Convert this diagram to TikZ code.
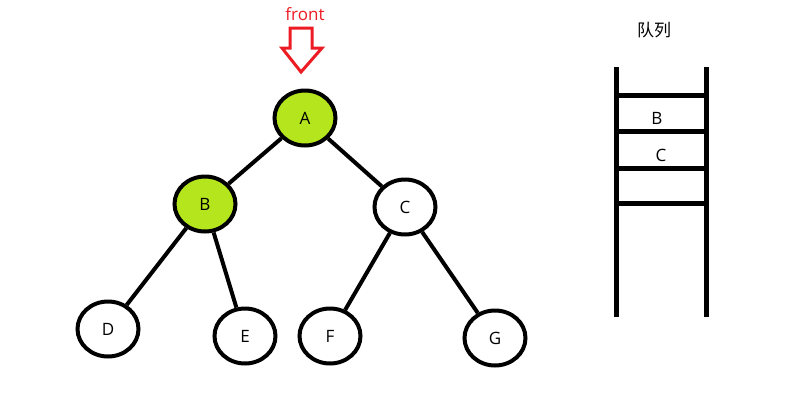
\documentclass[tikz,border=0pt]{standalone}
\usepackage{fontspec}
\setmainfont{Open Sans}
\newfontfamily\cjk{Noto Sans CJK SC}
\usetikzlibrary{shapes.geometric}
\definecolor{lime}{RGB}{181,230,29}
\definecolor{pred}{RGB}{237,28,36}
\begin{document}
\begin{tikzpicture}[x=1pt,y=-1pt,
  tnode/.style={ellipse,draw=black,line width=4pt,minimum width=61pt,minimum height=55pt,inner sep=0pt,fill=white,font=\fontsize{17}{20}\selectfont},
  hot/.style={tnode,fill=lime},
  edge/.style={line width=4pt},
  rail/.style={line width=5pt},
  lbl/.style={font=\fontsize{17}{20}\selectfont,inner sep=0pt}]
\fill[white] (0,0) rectangle (809,408);
\useasboundingbox (0,0) rectangle (809,408);
% tree
\node[hot] (A) at (305,118) {A};
\node[hot] (B) at (205,204) {B};
\node[tnode] (C) at (405,207) {C};
\node[tnode] (D) at (108,329) {D};
\node[tnode] (E) at (245,336) {E};
\node[tnode] (F) at (330,336) {F};
\node[tnode] (G) at (495,338) {G};
\draw[edge] (A) -- (B);
\draw[edge] (A) -- (C);
\draw[edge] (B) -- (D);
\draw[edge] (B) -- (E);
\draw[edge] (C) -- (F);
\draw[edge] (C) -- (G);
% front marker
\node[lbl,text=pred] (front) at (305,14) {front};
\draw[pred,line width=3pt,line join=miter] (290,28) -- (312,28) -- (312,48) -- (322,48) -- (301,72) -- (282,48) -- (290,48) -- cycle;
% queue
\node[lbl] (title) at (654,30) {\cjk 队列};
\coordinate (l0) at (616,67); \coordinate (l1) at (616,317);
\coordinate (r0) at (706,67); \coordinate (r1) at (706,317);
\draw[rail] (l0) -- (l1);
\draw[rail] (r0) -- (r1);
\foreach \yy in {95,131,168,203}{
  \draw[rail] (616,\yy) -- (706,\yy);
}
\node[lbl] (qB) at (657,118) {B};
\node[lbl] (qC) at (661,155) {C};
\end{tikzpicture}
\end{document}
